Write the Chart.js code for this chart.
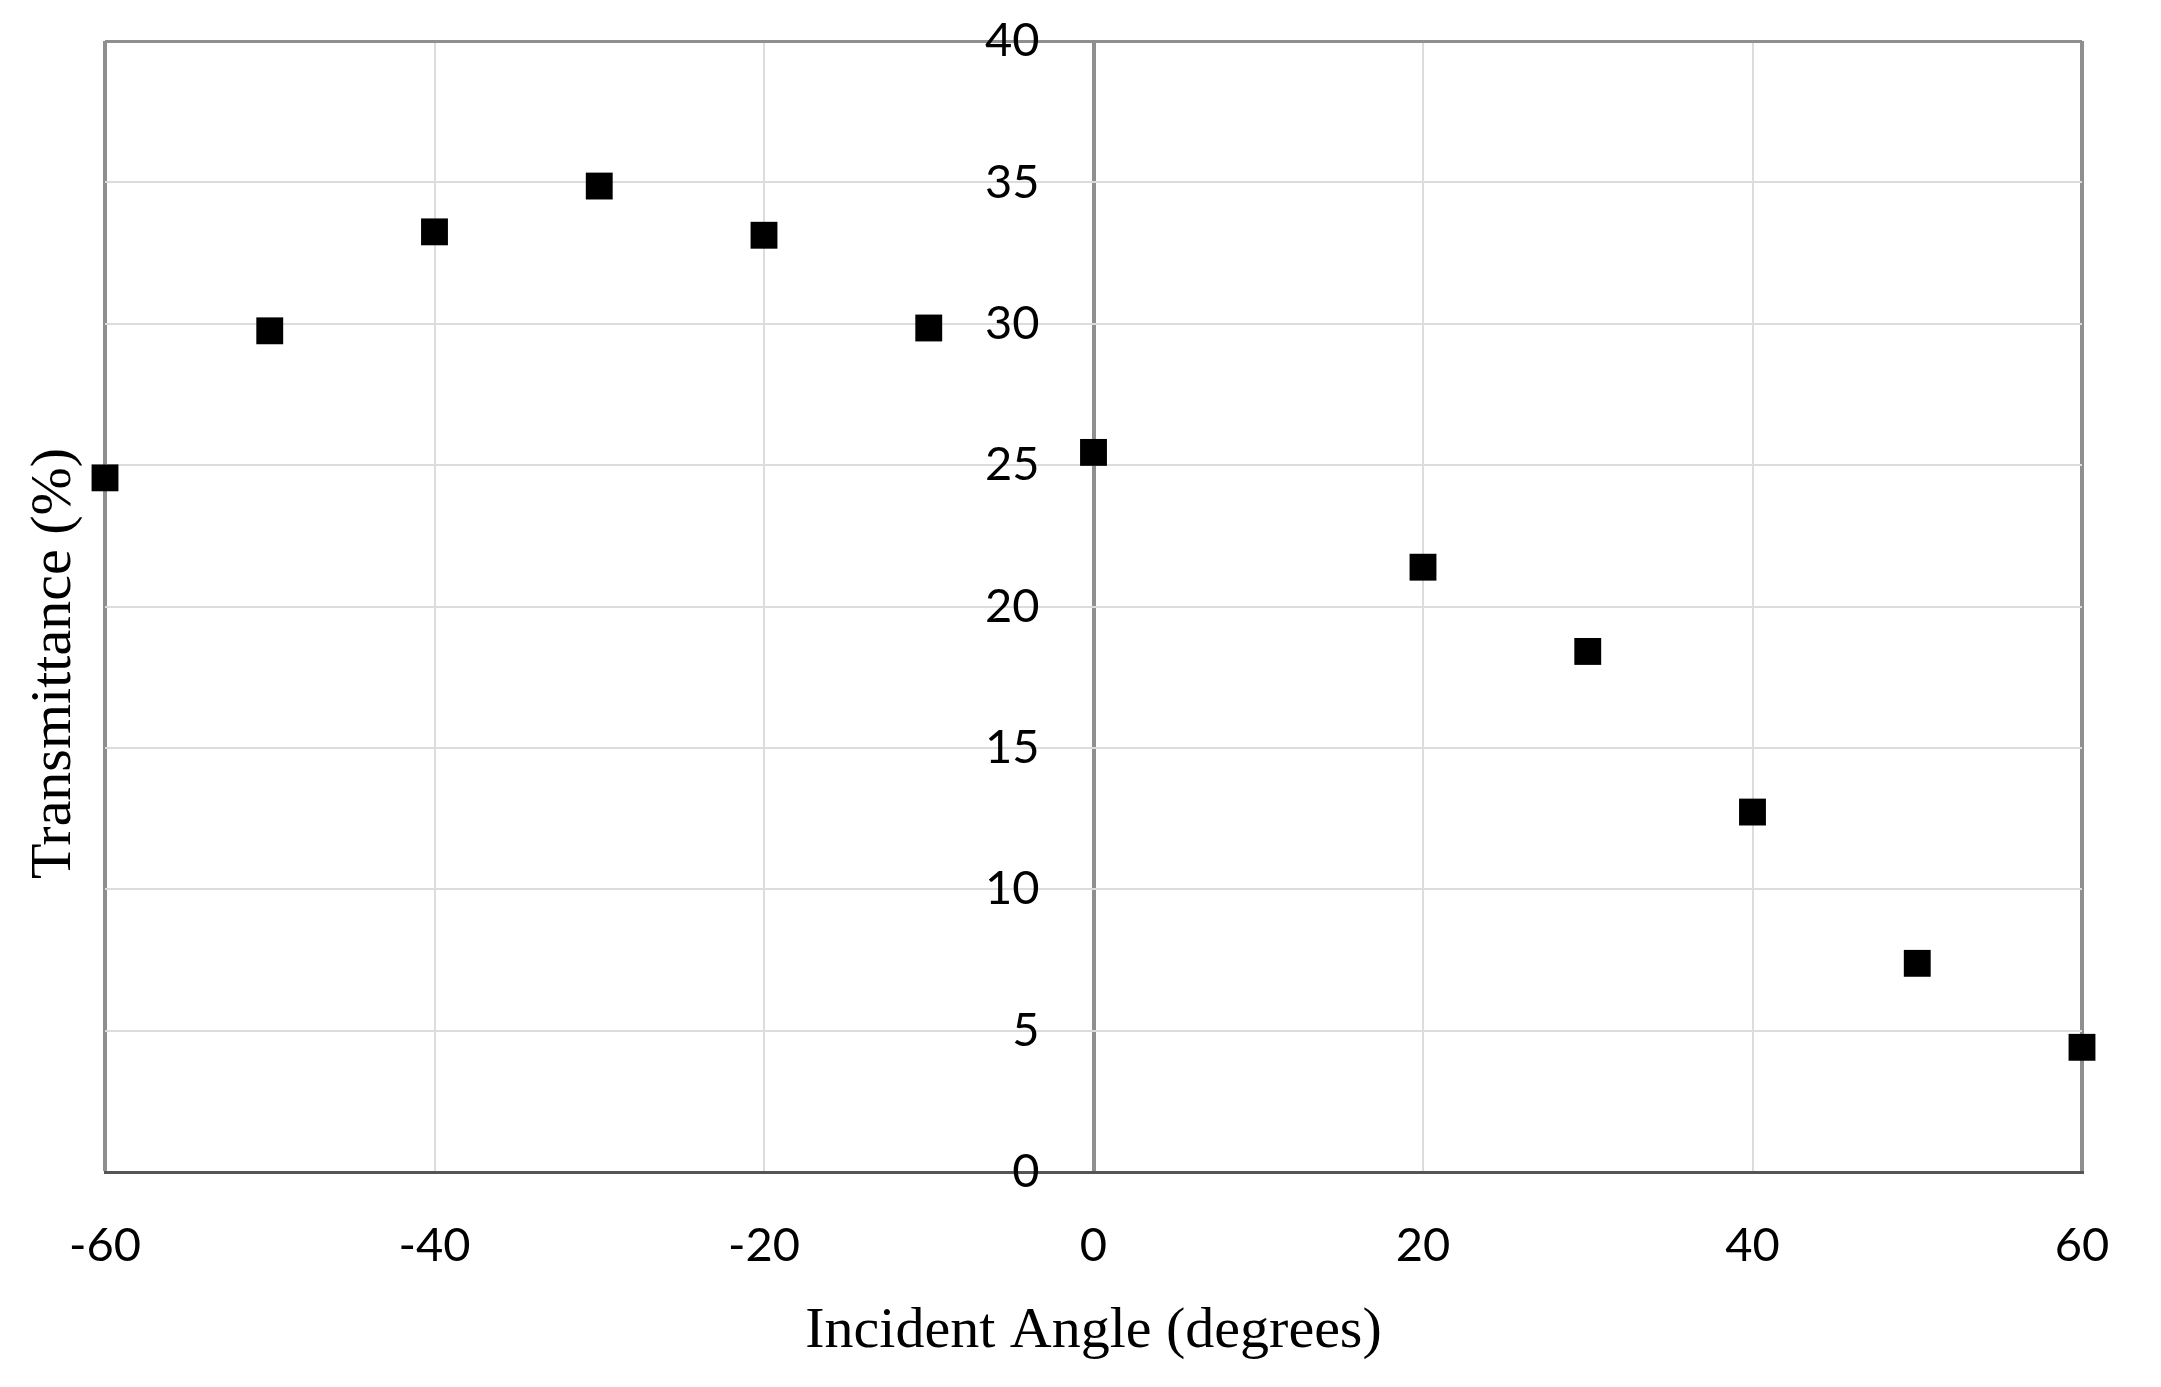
<!DOCTYPE html>
<html>
<head>
<meta charset="utf-8">
<script src="https://cdn.jsdelivr.net/npm/chart.js@4"></script>
<style>
  html, body { margin: 0; padding: 0; background: #ffffff; }
  #wrap { width: 2161px; height: 1387px; }
</style>
</head>
<body>
<div id="wrap"><canvas id="c" width="2161" height="1387"></canvas></div>
<script>
const angles = [-60, -50, -40, -30, -20, -10, 0, 20, 30, 40, 50, 60];
const transmittance = [24.55, 29.75, 33.25, 34.87, 33.13, 29.85, 25.45, 21.39, 18.41, 12.73, 7.38, 4.41];
const xTitle = 'Incident Angle (degrees)';
const yTitle = 'Transmittance (%)';
const xRange = [-60, 60];
const yRange = [0, 40];

const serif = '"Liberation Serif", "Times New Roman", "DejaVu Serif", serif';
const tickFont = { family: 'Lato, Carlito, "Open Sans", sans-serif', size: 47 };

const yTitlePlugin = {
  id: 'yTitle',
  afterDraw(chart) {
    const ctx = chart.ctx;
    const area = chart.chartArea;
    ctx.save();
    ctx.font = '58px ' + serif;
    ctx.fillStyle = '#000';
    ctx.textAlign = 'center';
    ctx.textBaseline = 'middle';
    ctx.translate(55, (area.top + area.bottom) / 2 + 57);
    ctx.rotate(-Math.PI / 2);
    ctx.fillText(yTitle, 0, 0);
    ctx.restore();
  }
};

new Chart(document.getElementById('c'), {
  type: 'scatter',
  data: {
    datasets: [{
      data: angles.map((a, i) => ({ x: a, y: transmittance[i] })),
      pointStyle: 'rect',
      pointRadius: 19,
      pointHoverRadius: 19,
      backgroundColor: '#000',
      borderColor: '#000',
      borderWidth: 0,
      clip: false
    }]
  },
  options: {
    responsive: false,
    animation: false,
    devicePixelRatio: 1,
    layout: { padding: { left: 105, top: 41, right: 79, bottom: 0 } },
    plugins: { legend: { display: false }, tooltip: { enabled: false } },
    scales: {
      x: {
        type: 'linear',
        min: xRange[0],
        max: xRange[1],
        afterFit(scale) { scale.height = 215; },
        ticks: { stepSize: 20, font: tickFont, color: '#000', padding: 46 },
        grid: {
          drawTicks: false,
          color: ctx => (ctx.tick && (ctx.tick.value === -60 || ctx.tick.value === 0 || ctx.tick.value === 60)) ? '#8f8f8f' : '#dcdcdc',
          lineWidth: ctx => (ctx.tick && (ctx.tick.value === -60 || ctx.tick.value === 0 || ctx.tick.value === 60)) ? 4 : 2
        },
        border: { display: true, color: '#555', width: 3 },
        title: { display: true, text: xTitle, font: { family: serif, size: 58 }, color: '#000', padding: { top: 0, bottom: 20 } }
      },
      y: {
        type: 'linear',
        position: 'center',
        min: yRange[0],
        max: yRange[1],
        afterFit(scale) { scale.paddingTop = 0; scale.paddingBottom = 0; },
        ticks: { stepSize: 5, font: tickFont, color: '#000', padding: 54 },
        grid: {
          drawTicks: false,
          color: ctx => (ctx.tick && ctx.tick.value === 40) ? '#8f8f8f' : '#dcdcdc',
          lineWidth: ctx => (ctx.tick && ctx.tick.value === 40) ? 3 : 2
        },
        border: { display: false }
      }
    }
  },
  plugins: [yTitlePlugin]
});
</script>
</body>
</html>
